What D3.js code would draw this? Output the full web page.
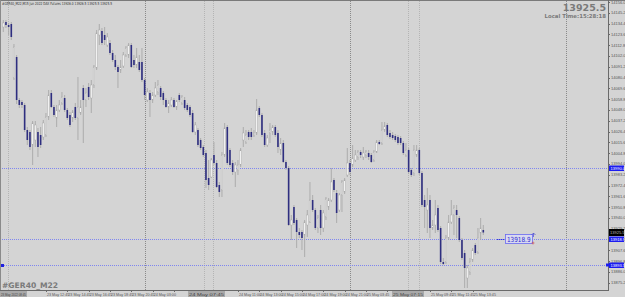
<!DOCTYPE html>
<meta charset="utf-8">
<script src="https://d3js.org/d3.v7.min.js"></script>
<style>
	body{ margin:0; background:#d4d4d4; }
	svg{ display:block; font-family:'DejaVu Sans', sans-serif; }
	.small{ font-family:'Liberation Sans Narrow','Liberation Sans', sans-serif; }
</style>
<div id="chart"></div>
<script>

// GER40 M22, M15 candles (price units)
var opens = [14131,14136,14133,14134,14080,14101,14058,14056,14053,14028,14026,14013,14018,14026,14023,14021,14023,14041,14065,14051,
	14040,14048,14055,14060,14048,14043,14040,14051,14040,14045,14070,14058,14071,14060,14073,14090,14123,14127,14123,14113,
	14115,14105,14098,14091,14088,14092,14103,14103,14113,14098,14093,14096,14096,14078,14058,14065,14058,14063,14066,14070,
	14065,14058,14051,14053,14058,14051,14063,14055,14058,14053,14051,14045,14026,14028,14018,14011,14005,13980,13981,14003,
	13995,13973,13968,14003,14031,14008,13995,13986,13988,13993,14018,14016,14026,14026,14023,14025,14050,14043,14025,14013,
	14025,14026,14031,14025,14008,14015,13996,13990,13933,13951,13938,13926,13926,13923,13933,13936,13958,13948,13930,13948,
	13930,13941,13951,13958,13978,13965,13948,13963,13966,13983,13995,13993,13998,14001,14006,14001,14003,14005,14003,13998,
	14006,14016,14015,14028,14033,14025,14023,14022,14021,14020,14015,14003,14008,13988,13985,14003,14008,13985,13958,13948,
	13958,13930,13933,13950,13930,13896,13896,13920,13936,13943,13948,13940,13918,13905,13880,13886,13898,13913,13906,13925,
	13928]
var highs = [14138,14138,14135,14136,14114,14103,14060,14058,14055,14031,14028,14037,14037,14030,14031,14038,14045,14068,14068,14053,
	14053,14058,14066,14063,14050,14046,14048,14055,14081,14058,14073,14070,14075,14078,14093,14128,14134,14130,14131,14125,
	14118,14108,14103,14093,14098,14106,14112,14115,14115,14103,14110,14103,14110,14080,14070,14068,14066,14076,14078,14072,
	14067,14060,14058,14061,14060,14058,14065,14063,14061,14055,14053,14048,14036,14030,14020,14013,14008,13998,14000,14016,
	13998,13976,14006,14035,14033,14010,13998,13996,13998,14010,14031,14028,14028,14030,14028,14059,14052,14045,14028,14023,
	14035,14033,14033,14028,14020,14018,13998,13992,13943,13953,13940,13930,13928,13938,13948,13976,13963,13950,13943,13953,
	13948,13961,13960,13990,13980,13968,13965,13978,13980,14010,13998,14013,14008,14008,14008,14011,14008,14008,14005,14008,
	14018,14018,14036,14036,14035,14028,14026,14024,14023,14022,14017,14015,14010,13990,14013,14013,14010,13987,13963,13970,
	13963,13938,13958,13953,13932,13900,13923,13943,13958,13953,13953,13942,13920,13908,13893,13900,13910,13915,13930,13940,
	13933]
var lows = [14126,14130,14123,14118,14078,14054,14050,14050,14026,14013,14008,13993,14011,14001,14010,14018,14021,14038,14050,14041,
	14031,14046,14053,14046,14038,14031,14036,14038,14018,14043,14015,14051,14058,14045,14070,14088,14113,14113,14113,14111,
	14103,14096,14088,14070,14085,14090,14101,14100,14090,14090,14090,14086,14076,14058,14056,14041,14055,14061,14063,14058,
	14053,14050,14045,14051,14050,14048,14056,14053,14048,14046,14041,14025,14023,14011,14008,14001,13970,13968,13980,13993,
	13970,13961,13961,14001,13993,13991,13983,13971,13983,13991,14011,14014,14018,14018,14021,14023,14041,14021,14011,14011,
	14015,14023,14021,14005,14003,13995,13988,13932,13918,13933,13910,13920,13908,13901,13921,13935,13946,13928,13925,13923,
	13926,13938,13948,13956,13966,13935,13946,13946,13964,13981,13983,13991,13996,13998,14000,13998,14000,13998,13995,13996,
	14005,14013,14013,14026,14021,14019,14018,14016,14013,14013,14003,14001,13984,13981,13982,14001,13983,13951,13930,13925,
	13920,13928,13925,13926,13894,13893,13894,13918,13934,13923,13920,13916,13898,13870,13870,13883,13896,13903,13904,13918,
	13923]
var closes = [14135,14133,14131,14121,14111,14058,14053,14053,14028,14018,14011,14035,14033,14011,14013,14035,14041,14063,14051,14043,
	14048,14053,14061,14048,14040,14033,14046,14040,14051,14051,14058,14065,14061,14073,14091,14125,14128,14115,14118,14121,
	14105,14098,14091,14086,14091,14103,14110,14113,14091,14093,14101,14088,14078,14063,14066,14058,14063,14070,14073,14061,
	14058,14051,14055,14058,14051,14057,14058,14061,14050,14048,14043,14026,14033,14013,14010,14003,13978,13973,13998,13995,
	13971,13966,14003,14030,13995,13993,13986,13993,13993,14008,14025,14023,14021,14021,14025,14048,14043,14023,14013,14020,
	14028,14031,14023,14011,14015,13996,13990,13933,13938,13935,13926,13923,13920,13936,13943,13958,13948,13930,13940,13930,
	13945,13959,13958,13976,13968,13945,13963,13976,13978,13995,13986,14000,14003,14006,14003,14005,14006,14001,13996,14006,
	14016,14014,14028,14032,14023,14021,14020,14018,14015,14015,14005,14008,13986,13983,14008,14008,13985,13953,13951,13953,
	13930,13933,13943,13928,13896,13894,13920,13936,13943,13950,13943,13918,13900,13890,13890,13896,13908,13905,13920,13930,
	13925.5]

// right price scale
var priceTicks = [14156.0,14145.2,14134.4,14123.6,14112.8,14102.0,14091.2,14080.4,14069.6,14058.8,14048.0,14037.2,14026.4,14015.6,
	14004.8,13994.0,13983.2,13972.4,13961.6,13950.8,13940.0,13929.2,13918.4,13907.6,13896.8,13886.0,13875.2]
var hLines = [13990.0, 13918.9, 13893.5]
var lastPrice = 13925.5

// time axis: bar index + label
var timeTickBars = [8,16,24,32,40,48,56,64,72,80,88,96,104,112,120,128,136,144,152,160,168,176]
var timeTickLabels = ["23 May 10:45","23 May 12:45","23 May 14:45","23 May 16:45","23 May 18:45","23 May 20:45",
	"24 May 03:00","24 May 05:00","24 May 07:00","24 May 09:00","24 May 11:00","24 May 13:00","24 May 15:00","24 May 17:00",
	"24 May 19:00","24 May 21:00","25 May 03:45","25 May 05:45","25 May 07:45","25 May 09:45","25 May 11:45","25 May 13:45"]
// vertical lines (bar index, style) and their boxed time labels
var vLineBars = [1.8, 53.1, 75.3, 78.6, 130, 151.8, 156, 211]
var vLineDark = [false, true, false, false, true, false, false, true]
var boxBars = [0, 72, 148.5]
var boxLabels = ["23 May 2022 08:45", "24 May 07:45", "25 May 07:15"]
var boxWidths = [27, 37, 32]

var W = 625, H = 297
var plotR = 608, plotB = 290
var bg = "#d4d4d4"

var svg = d3.select("#chart").append("svg").attr("width",W).attr("height",H)
svg.append("rect").attr("width",W).attr("height",H).attr("fill",bg)

var x = d3.scaleLinear().domain([0,180]).range([3.3,483.3])
var y = d3.scaleLinear().domain([14158,13868]).range([0,290])

// vertical dotted lines
svg.append("g").selectAll("line").data(vLineBars).join("line")
	.attr("x1",function(d){ return Math.round(x(d))+0.5 }).attr("x2",function(d){ return Math.round(x(d))+0.5 })
	.attr("y1",1).attr("y2",plotB)
	.attr("stroke",function(d,i){ return vLineDark[i] ? "#8a8a8a" : "#b4b4b4" })
	.attr("stroke-dasharray","1,1")

// horizontal price lines
svg.append("g").selectAll("line").data(hLines).join("line")
	.attr("x1",0).attr("x2",plotR)
	.attr("y1",function(d){ return Math.round(y(d))+0.5 }).attr("y2",function(d){ return Math.round(y(d))+0.5 })
	.attr("stroke","#7f86f0").attr("stroke-dasharray","1,1")
svg.append("rect").attr("x",1).attr("y",Math.round(y(hLines[2]))-1).attr("width",3).attr("height",3).attr("fill","#2020e0")

// candles
var idx = d3.range(opens.length)
var cg = svg.append("g")
cg.selectAll("line").data(idx).join("line")
	.attr("x1",function(i){ return x(i) }).attr("x2",function(i){ return x(i) })
	.attr("y1",function(i){ return y(highs[i]) }).attr("y2",function(i){ return y(lows[i]) })
	.attr("stroke","#a8a8a8").attr("stroke-width",0.9)
cg.selectAll("rect").data(idx).join("rect")
	.attr("x",function(i){ return x(i)-0.8 })
	.attr("width",1.6)
	.attr("y",function(i){ return y(Math.max(opens[i],closes[i])) })
	.attr("height",function(i){ return Math.max(0.8, Math.abs(y(opens[i])-y(closes[i]))) })
	.attr("fill",function(i){ return closes[i] >= opens[i] ? "#f4f4f4" : "#2e2e80" })
	.attr("stroke",function(i){ return closes[i] >= opens[i] ? "#a8a8a8" : "none" })
	.attr("stroke-width",0.4)

// frame
svg.append("line").attr("x1",0).attr("x2",W).attr("y1",0.5).attr("y2",0.5).attr("stroke","#7a7a7a")
svg.append("line").attr("x1",0.5).attr("x2",0.5).attr("y1",0).attr("y2",plotB).attr("stroke","#8a8a8a")
svg.append("line").attr("x1",0).attr("x2",plotR).attr("y1",plotB+0.5).attr("y2",plotB+0.5).attr("stroke","#6a6a6a")
svg.append("line").attr("x1",plotR+0.5).attr("x2",plotR+0.5).attr("y1",0).attr("y2",plotB+1).attr("stroke","#6a6a6a")

// price axis
var ya = svg.append("g")
ya.selectAll("line").data(priceTicks).join("line")
	.attr("x1",plotR).attr("x2",plotR+2)
	.attr("y1",function(d){ return Math.round(y(d))+0.5 }).attr("y2",function(d){ return Math.round(y(d))+0.5 })
	.attr("stroke","#6a6a6a")
ya.selectAll("text").data(priceTicks).join("text").attr("class","small")
	.attr("x",plotR+3).attr("y",function(d){ return Math.max(4.2, y(d)+1.4) })
	.attr("font-size",4).attr("fill","#555")
	.text(function(d){ return d.toFixed(1) })

// price line labels
var hl = svg.append("g").selectAll("g").data(hLines).join("g")
	.attr("transform",function(d){ return "translate("+(plotR+1)+","+Math.round(y(d))+")" })
hl.append("rect").attr("x",0).attr("y",-2.5).attr("width",15).attr("height",5.5).attr("fill","#1c1cf0")
hl.append("text").attr("class","small").attr("x",1.5).attr("y",1.5).attr("font-size",4).attr("fill","#fff")
	.text(function(d){ return d.toFixed(1) })
svg.append("rect").attr("x",plotR-2).attr("y",Math.round(y(hLines[2]))-1.5).attr("width",3).attr("height",3).attr("fill","#1c1cf0")

// last price label
svg.append("rect").attr("x",plotR+1).attr("y",y(lastPrice)-3.5).attr("width",15).attr("height",7).attr("fill","#000")
svg.append("text").attr("class","small").attr("x",plotR+2).attr("y",y(lastPrice)+1.4).attr("font-size",4).attr("fill","#bbb")
	.text(lastPrice.toFixed(1))

// object label on the 13918.9 line
var ly = Math.round(y(hLines[1]))
svg.append("line").attr("x1",497).attr("x2",505).attr("y1",ly+0.5).attr("y2",ly+0.5).attr("stroke","#3a3ad0").attr("stroke-dasharray","1,1")
svg.append("rect").attr("x",505.5).attr("y",ly-4.5).attr("width",27).attr("height",9)
	.attr("fill","#dadaf0").attr("stroke","#6a6af0").attr("stroke-width",0.8)
svg.append("text").attr("x",507).attr("y",ly+2.6).attr("font-size",7).attr("fill","#2a2ad0")
	.attr("textLength",23.5).attr("lengthAdjust","spacingAndGlyphs").text(hLines[1].toFixed(1))
svg.append("path").attr("d","M531.5,"+(ly-4)+" l2,-2 l2,2 M533.5,"+(ly-6)+" v4").attr("stroke","#4a4ad0").attr("fill","none").attr("stroke-width",0.7)
svg.append("circle").attr("cx",533).attr("cy",ly+4).attr("r",1).attr("fill","none").attr("stroke","#d04040").attr("stroke-width",0.6)

// time axis; labels hidden under the vertical-line boxes are skipped, as in the terminal
var boxSpans = boxBars.map(function(d,i){ var l = Math.max(0, Math.round(x(d))-7); return [l, l+boxWidths[i]] })
var tickVisible = timeTickBars.map(function(d){
	var l = x(d)+1, r = l+18
	return !boxSpans.some(function(s){ return l < s[1] && r > s[0] })
})
var ta = svg.append("g")
ta.selectAll("line").data(timeTickBars).join("line")
	.attr("x1",function(d){ return Math.round(x(d))+0.5 }).attr("x2",function(d){ return Math.round(x(d))+0.5 })
	.attr("y1",plotB).attr("y2",plotB+2).attr("stroke","#6a6a6a")
ta.selectAll("text.t").data(timeTickLabels.filter(function(d,i){ return tickVisible[i] })).join("text").attr("class","t small")
	.attr("x",function(d){ return x(timeTickBars[timeTickLabels.indexOf(d)])+1 }).attr("y",plotB+5.5)
	.attr("font-size",3.7).attr("fill","#555")
	.text(function(d){ return d })
var bx = ta.selectAll("g.box").data(boxBars).join("g").attr("class","box")
	.attr("transform",function(d,i){ return "translate("+boxSpans[i][0]+","+(plotB+1)+")" })
bx.append("rect").attr("width",function(d,i){ return boxWidths[i] }).attr("height",6).attr("fill","#a9a9a9")
bx.append("text").attr("class","small").attr("x",1).attr("y",4.5).attr("font-size",3.7).attr("fill","#444")
	.attr("textLength",function(d,i){ return boxWidths[i]-2 }).attr("lengthAdjust","spacingAndGlyphs")
	.text(function(d,i){ return boxLabels[i] })

// header and overlay texts
svg.append("text").attr("x",2).attr("y",5.2).attr("font-size",4).attr("fill","#333")
	.attr("textLength",110).attr("lengthAdjust","spacingAndGlyphs")
	.text("#GER40_M22,M15  Jun 2022 DAX Futures  13926.0 13926.5 13925.5 13925.5")
svg.append("text").attr("x",606).attr("y",10.5).attr("text-anchor","end").attr("font-size",9.5).attr("font-weight","bold")
	.attr("fill","#7a7a7a").text("13925.5")
svg.append("text").attr("x",606).attr("y",17.5).attr("text-anchor","end").attr("font-size",5.4).attr("font-weight","bold")
	.attr("fill","#7a7a7a").text("Local Time:15:28:18")
svg.append("text").attr("x",2).attr("y",288).attr("font-size",7.6).attr("font-weight","bold")
	.attr("fill","#7a7a7a").text("#GER40_M22")

</script>
